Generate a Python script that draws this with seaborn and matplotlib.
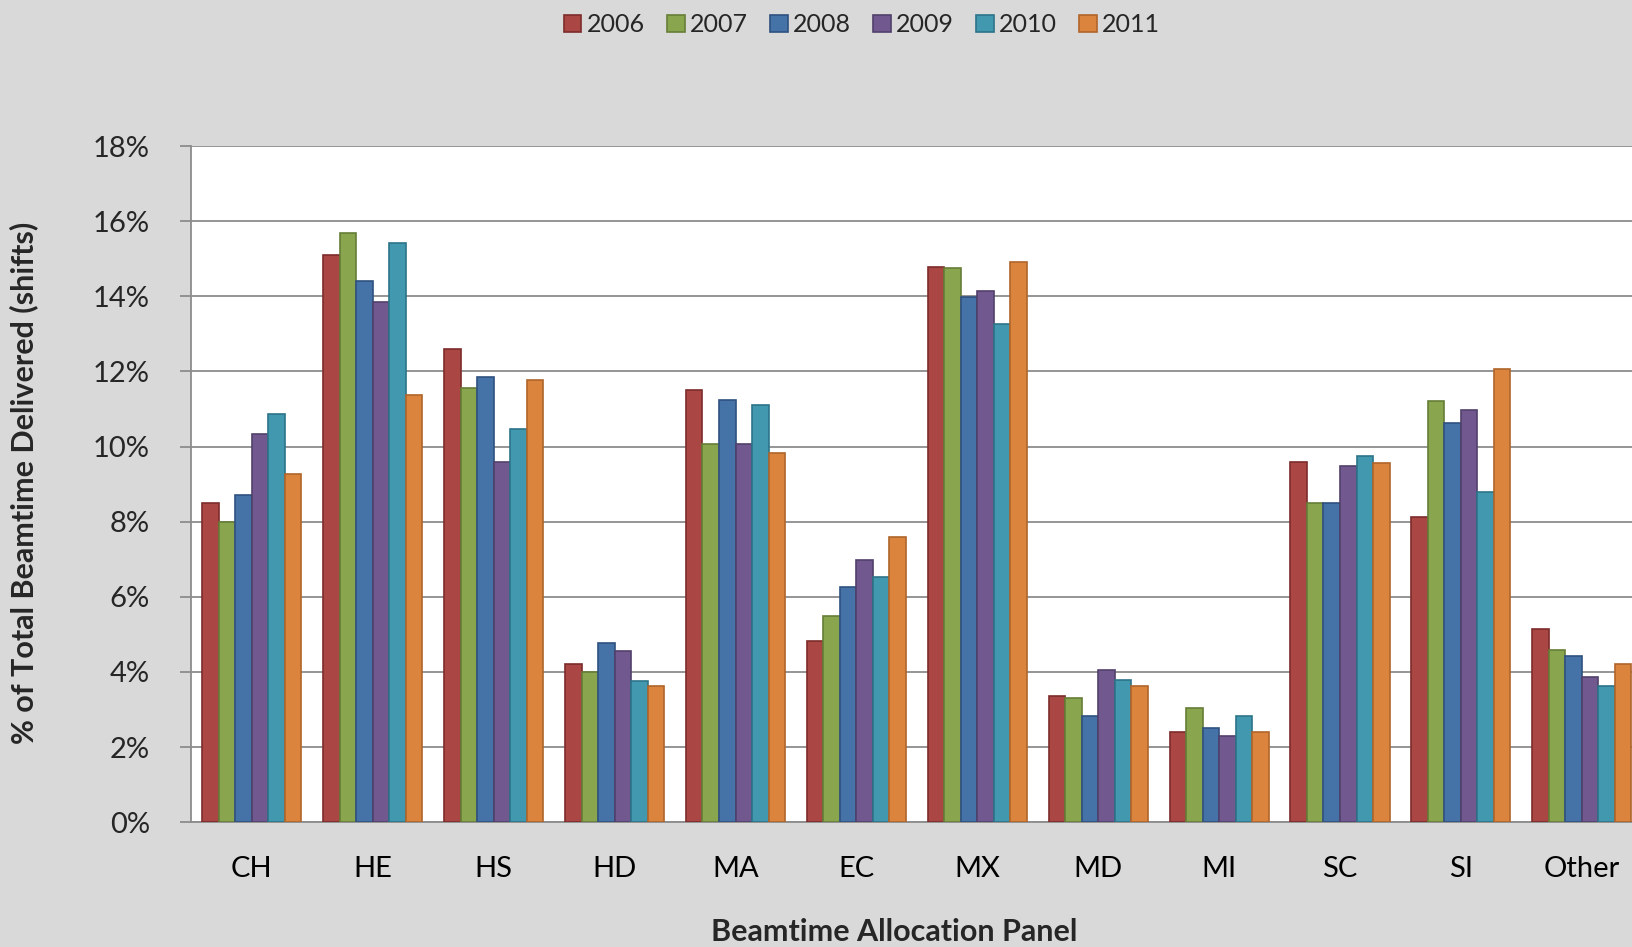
import numpy as np
import pandas as pd
import matplotlib.pyplot as plt
import matplotlib.ticker as mticker
import seaborn as sns

panels = ['CH', 'HE', 'HS', 'HD', 'MA', 'EC', 'MX', 'MD', 'MI', 'SC', 'SI', 'Other']
years = ['2006', '2007', '2008', '2009', '2010', '2011']

pct_2006 = [8.50, 15.10, 12.60, 4.20, 11.50, 4.82, 14.78, 3.37, 2.40, 9.60, 8.12, 5.15]
pct_2007 = [8.00, 15.68, 11.55, 4.00, 10.07, 5.50, 14.75, 3.30, 3.05, 8.50, 11.22, 4.58]
pct_2008 = [8.72, 14.40, 11.85, 4.77, 11.24, 6.27, 13.98, 2.83, 2.52, 8.50, 10.62, 4.42]
pct_2009 = [10.33, 13.85, 9.60, 4.55, 10.07, 6.98, 14.13, 4.05, 2.30, 9.47, 10.98, 3.87]
pct_2010 = [10.86, 15.43, 10.48, 3.75, 11.10, 6.52, 13.27, 3.78, 2.83, 9.75, 8.78, 3.63]
pct_2011 = [9.28, 11.38, 11.77, 3.63, 9.82, 7.60, 14.90, 3.63, 2.40, 9.55, 12.07, 4.20]

colors = ['#AA4643', '#89A54E', '#4572A7', '#71588F', '#4198AF', '#DB843D']
edges = ['#7d2c2b', '#667d36', '#2f5180', '#51406b', '#2c7489', '#b0652a']

series = [pct_2006, pct_2007, pct_2008, pct_2009, pct_2010, pct_2011]
rows = []
for yr, vals in zip(years, series):
    for p, v in zip(panels, vals):
        rows.append({'panel': p, 'year': yr, 'pct': v})
df = pd.DataFrame(rows)

sns.set_theme(style='white')
plt.rcParams['font.family'] = ['Lato', 'DejaVu Sans']

fig = plt.figure(figsize=(16.32, 9.47), dpi=100, facecolor='#d9d9d9')
ax = fig.add_axes([0.1173, 0.1318, 0.889, 0.714])
ax.set_facecolor('white')

sns.barplot(data=df, x='panel', y='pct', hue='year', order=panels, hue_order=years,
            palette=colors, saturation=1, width=0.82, ax=ax, legend=False, zorder=3)

for i, cont in enumerate(ax.containers):
    for bar in cont:
        bar.set_edgecolor(edges[i])
        bar.set_linewidth(1.2)

ax.set_ylim(0, 18)
ax.set_xlim(-0.5, len(panels) - 0.5)
ax.yaxis.set_major_locator(mticker.MultipleLocator(2))
ax.yaxis.set_major_formatter(mticker.FuncFormatter(lambda v, _: f'{v:.0f}%'))
ax.yaxis.grid(True, color='#8c8c8c', linewidth=1.3, zorder=0)
ax.set_axisbelow(True)

for s in ['top', 'right']:
    ax.spines[s].set_visible(False)
for s in ['left', 'bottom']:
    ax.spines[s].set_color('#8c8c8c')
    ax.spines[s].set_linewidth(1.3)

ax.set_xticks(np.arange(-0.5, len(panels), 1.0), minor=True)
ax.tick_params(axis='x', which='major', length=0, labelsize=21, pad=24, colors='black')
ax.tick_params(axis='x', which='minor', length=9, width=1.3, color='#8c8c8c', direction='out')
ax.tick_params(axis='y', which='major', length=8, width=1.3, color='#8c8c8c', direction='out',
               labelsize=21, pad=22, left=True)

ax.set_xlabel('')
ax.set_ylabel('')
fig.text(0.548, 0.016, 'Beamtime Allocation Panel', ha='center', va='center',
         fontsize=22, fontweight='bold')
fig.text(0.0145, 0.49, '% of Total Beamtime Delivered (shifts)', ha='center', va='center',
         rotation=90, fontsize=22, fontweight='bold')

handles = [plt.Rectangle((0, 0), 1, 1, facecolor=c, edgecolor=e, linewidth=1.2)
           for c, e in zip(colors, edges)]
fig.legend(handles, years, loc='upper center', bbox_to_anchor=(0.528, 1.01), ncol=6,
           frameon=False, fontsize=18, handlelength=0.7, handleheight=0.7,
           handletextpad=0.2, columnspacing=0.9)

fig.savefig('out.png', dpi=100, facecolor=fig.get_facecolor())
